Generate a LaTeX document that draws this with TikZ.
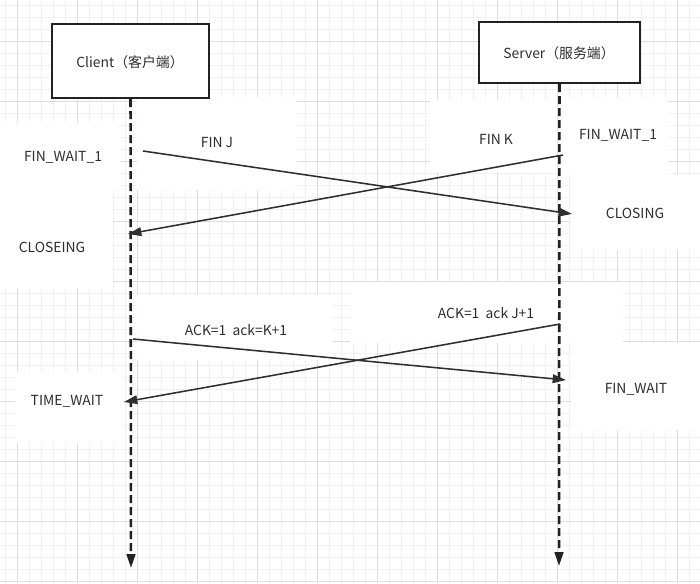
\documentclass[tikz,border=0pt]{standalone}
\usepackage{fontspec}
\setmainfont{Noto Sans CJK SC}
\usetikzlibrary{arrows.meta}
\definecolor{ink}{HTML}{2E2E2E}
\definecolor{boxline}{HTML}{222222}
\definecolor{gridminor}{HTML}{F1F1F1}
\definecolor{gridmajor}{HTML}{DEDEDE}
\tikzset{
  minorgrid/.style={draw=gridminor,line width=0.6pt},
  majorgrid/.style={draw=gridmajor,line width=0.75pt},
  patch/.style={fill=white,draw=none},
  actor/.style={draw=boxline,line width=1.5pt,fill=white,inner sep=0pt},
  lifeline/.style={draw=boxline,line width=1.9pt,dash pattern=on 6pt off 3pt,
     -{Triangle[length=10.5pt,width=6.5pt]}},
  msg/.style={draw=ink,line width=1.15pt,-{Triangle[length=10pt,width=6.5pt]}},
  lbl/.style={text=ink,font=\fontsize{10.4pt}{12pt}\selectfont,inner sep=0pt}
}
\begin{document}
\begin{tikzpicture}[x=0.75pt,y=-0.75pt]
\useasboundingbox (0,0) rectangle (700,583);
\fill[white] (0,0) rectangle (700,583);
% grid
\foreach \x in {5,17,...,700} \draw[minorgrid] (\x,0) -- (\x,583);
\foreach \y in {5,17,...,583} \draw[minorgrid] (0,\y) -- (700,\y);
\foreach \x in {17,77,...,700} \draw[majorgrid] (\x,0) -- (\x,583);
\foreach \y in {41,101,...,583} \draw[majorgrid] (0,\y) -- (700,\y);
% white label patches
\fill[patch] (0,123) rectangle (120,190);
\fill[patch] (137,97) rectangle (297,190);
\fill[patch] (0,190) rectangle (113,288);
\fill[patch] (430,100) rectangle (557,172);
\fill[patch] (562,98) rectangle (668,175);
\fill[patch] (570,175) rectangle (700,250);
\fill[patch] (137,295) rectangle (333,360);
\fill[patch] (350,282) rectangle (623,343);
\fill[patch] (572,343) rectangle (700,430);
\fill[patch] (15,372) rectangle (123,443);
% actors
\node[actor,minimum width=117.75pt,minimum height=55.5pt] (client) at (130.5,61) {};
\node[actor,minimum width=120.75pt,minimum height=45.75pt] (server) at (559.5,52.5) {};
\node[lbl] (clienttxt) at (130,62) {Client（客户端）};
\node[lbl] (servertxt) at (559,53) {Server（服务端）};
% lifeline ends
\coordinate (cend) at (131,568);
\coordinate (send) at (559,566);
\draw[lifeline] (client.south) -- (cend);
\draw[lifeline] (server.south) -- (send);
% message points
\coordinate (finjA) at (143,151);
\coordinate (finjB) at (572,214);
\coordinate (finkA) at (563,155);
\coordinate (finkB) at (128,234);
\coordinate (ackkA) at (133,339);
\coordinate (ackkB) at (566,380);
\coordinate (ackjA) at (560,324);
\coordinate (ackjB) at (124,402);
\draw[msg] (finjA) -- (finjB);
\draw[msg] (finkA) -- (finkB);
\draw[msg] (ackkA) -- (ackkB);
\draw[msg] (ackjA) -- (ackjB);
% labels
\node[lbl] (l1) at (63,157) {FIN\_WAIT\_1};
\node[lbl] (l2) at (217,143) {FIN J};
\node[lbl] (l3) at (496,139) {FIN K};
\node[lbl] (l4) at (618,135) {FIN\_WAIT\_1};
\node[lbl] (l5) at (635,213) {CLOSING};
\node[lbl] (l6) at (52,247) {CLOSEING};
\node[lbl] (l7) at (236,330) {ACK=1\ \ ack=K+1};
\node[lbl] (l8) at (486,313) {ACK=1\ \ ack J+1};
\node[lbl] (l9) at (636,389) {FIN\_WAIT};
\node[lbl] (l10) at (67,401) {TIME\_WAIT};
\end{tikzpicture}
\end{document}
